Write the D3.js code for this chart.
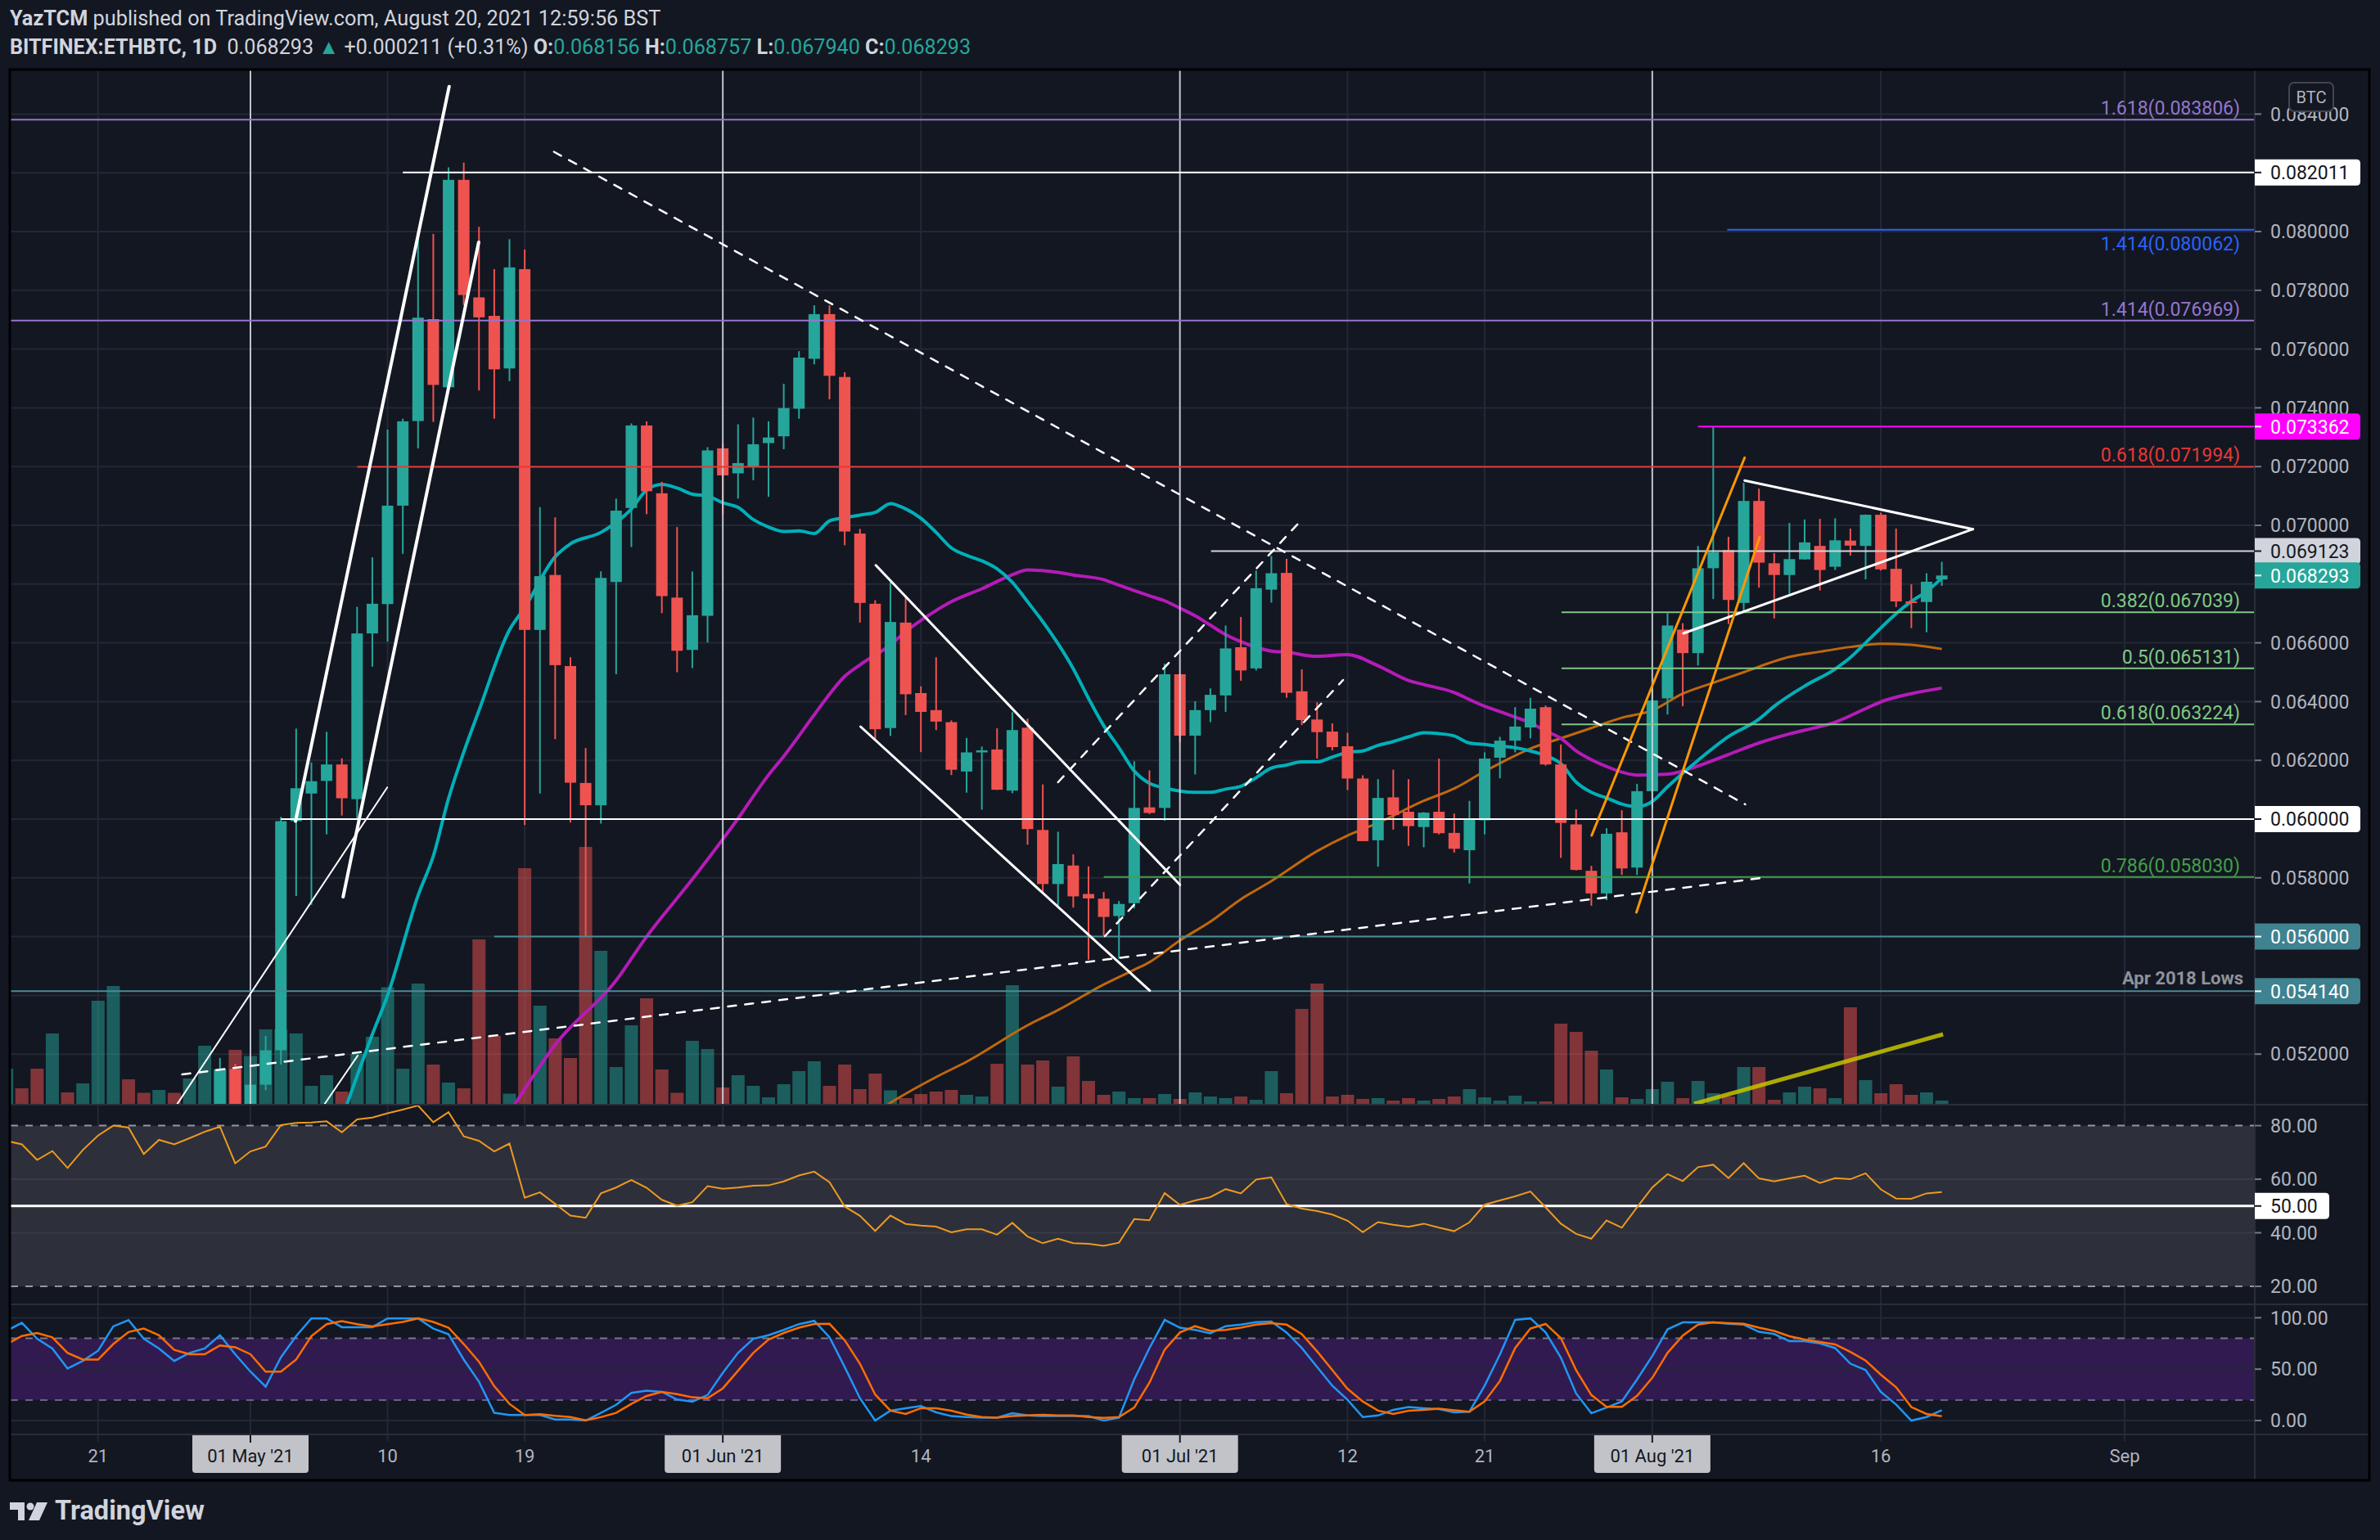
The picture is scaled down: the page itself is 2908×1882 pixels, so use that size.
<!DOCTYPE html>
<html><head><meta charset="utf-8">
<script src="https://cdn.jsdelivr.net/npm/d3@7"></script>
<style>html,body{margin:0;padding:0;background:#131722;}svg{display:block;}</style>
</head><body>
<svg id="chart" width="2908" height="1882"></svg>
<script>
// ---------------- DATA ----------------
const firstDay = "2021-04-15", lastDay = "2021-08-20";
const opens = [0.0382,0.0386,0.0383,0.0380,0.0395,0.0393,0.0410,0.0436,0.0460,0.0456,0.0452,0.0457,0.0452,0.0468,0.0495,0.05149,
0.0502,0.05096,0.05213,0.05993,0.06087,0.06130,0.06186,0.06068,0.06632,0.06732,0.07067,0.07355,0.07702,0.07470,0.08176,0.07776,0.07713,0.07534,0.07872,0.06644,0.06831,0.06521,0.06123,0.06047,0.06807,0.07059,0.07340,0.07109,0.06754,0.06576,0.06692,
0.07262,0.07177,0.07198,0.07280,0.07303,0.07397,0.07567,0.07719,0.07505,0.06972,0.06733,0.06310,0.06669,0.06429,0.06371,0.06330,0.06162,0.06227,0.06237,0.06097,0.06311,0.05963,0.05779,0.05842,0.05745,0.05729,0.05670,0.05714,0.06040,0.06038,
0.06493,0.06284,0.06371,0.06421,0.06585,0.06513,0.06781,0.06838,0.06435,0.06339,0.06298,0.06248,0.06138,0.05928,0.06074,0.06025,0.05973,0.06025,0.05953,0.05894,0.05996,0.06209,0.06267,0.06312,0.06381,0.06186,0.05982,0.05824,0.05747,0.05955,0.05835,
0.06095,0.06411,0.06645,0.06565,0.06854,0.06916,0.06736,0.07083,0.06871,0.06831,0.06884,0.06930,0.06859,0.06948,0.06930,0.07036,0.06852,0.06741,0.06739,0.068156];
const highs = [0.0389,0.0391,0.0387,0.0398,0.0399,0.0412,0.0440,0.0468,0.0466,0.0461,0.0460,0.0462,0.0470,0.0499,0.05187,0.05167,
0.05116,0.05262,0.06008,0.06308,0.06193,0.06297,0.06207,0.06723,0.06891,0.07326,0.07363,0.07987,0.07992,0.08219,0.08235,0.08016,0.07872,0.07974,0.07939,0.07062,0.07027,0.06551,0.06242,0.06843,0.07091,0.07347,0.07354,0.07148,0.06994,0.06843,0.07266,
0.07278,0.07344,0.07367,0.07354,0.07482,0.07593,0.07749,0.07749,0.07521,0.06988,0.06745,0.06807,0.06754,0.06452,0.06551,0.06336,0.06276,0.06247,0.06309,0.06364,0.06342,0.06118,0.05957,0.05880,0.05839,0.05752,0.05721,0.06197,0.06166,0.06529,
0.06495,0.06401,0.06445,0.06659,0.06688,0.06846,0.06896,0.06886,0.06510,0.06398,0.06326,0.06294,0.06149,0.06136,0.06168,0.06136,0.06024,0.06206,0.06019,0.06062,0.06227,0.06280,0.06381,0.06413,0.06387,0.06254,0.06033,0.05841,0.05969,0.06030,0.06120,
0.06450,0.06701,0.06667,0.06930,0.07336,0.06961,0.07145,0.07125,0.06905,0.07008,0.07020,0.07022,0.07024,0.06989,0.07037,0.07043,0.06989,0.06799,0.06837,0.068757];
const lows = [0.0379,0.0380,0.0376,0.0375,0.0388,0.0390,0.0405,0.0430,0.0445,0.0448,0.0447,0.0449,0.0450,0.0465,0.0490,0.0495,
0.0499,0.05077,0.05164,0.05738,0.05708,0.05948,0.06012,0.06003,0.06519,0.06604,0.06903,0.07262,0.07352,0.07470,0.07750,0.07459,0.07363,0.07491,0.05980,0.06087,0.06272,0.05988,0.05602,0.05985,0.06493,0.06926,0.07038,0.06701,0.06500,0.06514,0.06601,
0.07035,0.07091,0.07154,0.07097,0.07259,0.07363,0.07548,0.07429,0.06932,0.06669,0.06271,0.06283,0.06354,0.06228,0.06303,0.06150,0.06090,0.06032,0.06099,0.06088,0.05913,0.05748,0.05705,0.05699,0.05521,0.05602,0.05525,0.05696,0.06017,0.05994,
0.06262,0.06152,0.06330,0.06365,0.06471,0.06506,0.06737,0.06413,0.06320,0.06206,0.06234,0.06099,0.05925,0.05838,0.05964,0.05909,0.05904,0.05948,0.05886,0.05781,0.05948,0.06139,0.06227,0.06275,0.06182,0.05868,0.05825,0.05705,0.05724,0.05810,0.05810,
0.06040,0.06356,0.06384,0.06523,0.06749,0.06664,0.06704,0.06788,0.06683,0.06767,0.06883,0.06778,0.06848,0.06897,0.06816,0.06846,0.06722,0.06650,0.06636,0.067940];
const closes = [0.0386,0.0383,0.0380,0.0395,0.0393,0.0410,0.0436,0.0460,0.0456,0.0452,0.0457,0.0452,0.0468,0.0495,0.05149,0.0502,
0.05096,0.05213,0.05993,0.06105,0.06129,0.06186,0.06071,0.06632,0.06733,0.07067,0.07354,0.07707,0.07478,0.08176,0.07784,0.07708,0.07531,0.07878,0.06644,0.06827,0.06524,0.06124,0.06047,0.06821,0.07050,0.07340,0.07116,0.06759,0.06573,0.06694,0.07255,
0.07170,0.07212,0.07276,0.07299,0.07399,0.07571,0.07719,0.07509,0.06979,0.06736,0.06306,0.06671,0.06425,0.06365,0.06332,0.06168,0.06227,0.06234,0.06100,0.06303,0.05966,0.05779,0.05847,0.05737,0.05730,0.05667,0.05711,0.06038,0.06021,0.06493,
0.06284,0.06371,0.06423,0.06581,0.06506,0.06786,0.06837,0.06430,0.06337,0.06296,0.06245,0.06138,0.05925,0.06072,0.06014,0.05976,0.06022,0.05952,0.05899,0.05998,0.06206,0.06267,0.06315,0.06376,0.06186,0.05987,0.05827,0.05747,0.05950,0.05832,0.06095,
0.06404,0.06659,0.06565,0.06854,0.06908,0.06746,0.07083,0.06873,0.06831,0.06885,0.06942,0.06848,0.06949,0.06931,0.07036,0.06850,0.06741,0.06736,0.06808,0.068293];
const volumes = [43,19,43,86,14,25,126,144,30,13.5,17,13.5,31,71,42,66,
58.5,91,91,86,22,35,15,61,82,142.5,43,147,48,26,19,201,83,12.5,288,120,80,56,314,187,45,96,129,42,13.5,77,67,
20,35,22,8,24,40,52,22,48,18,37,16.5,7,12,15,17,11,9,49,145,48,53,21,58,28,11,15,7,7,12,
6,14,9,7,9,5,40,13,116,147,9,11,6,7,4,7,4,6,9,18,8,4,10,3,3,98,88,65,42,8,6,
18,27,7,28,13,9,45,45,5,14,21,19,7,118,29,13,24,11,14,4];
const rsi = [74.3,73.0,67.2,70.5,64.2,70.9,76.3,80.0,79.3,69.4,74.7,73.0,75.3,77.7,79.6,65.9,
70.4,72.2,80.2,81.0,81.2,81.6,77.5,82.3,83.0,84.6,86.0,87.5,81.3,85.0,76.0,74.3,70.4,73.3,53.1,55.1,50.8,46.4,45.6,54.7,56.9,59.7,56.8,52.3,50.1,51.4,57.4,
56.4,56.9,57.6,57.7,59.2,61.4,62.8,58.9,49.8,46.3,40.7,46.4,43.3,42.7,42.3,40.2,41.3,41.3,39.3,43.7,38.6,36.1,37.8,36.1,35.9,35.1,36.3,45.1,44.7,54.8,
50.4,52.1,53.3,56.3,54.7,59.9,60.7,50.7,49.0,48.1,46.8,44.5,40.2,44.0,43.0,42.2,43.4,41.9,40.6,43.9,50.5,52.1,53.6,55.4,49.5,43.4,39.6,37.8,44.6,41.9,49.5,
56.9,61.9,59.3,64.5,65.4,60.4,66.0,60.3,59.2,60.3,61.3,58.6,60.4,60.0,62.2,56.2,52.8,52.7,54.7,55.2];
const stochK = [87.3,95.1,79.6,70.1,50.6,58.0,67.9,91.6,97.7,79.6,70.1,58.0,65.8,70.1,83.0,64.5,
47.6,33.0,61.5,82.2,99.4,99.4,90.8,90.8,90.8,99.4,99.4,99.4,89.5,83.9,59.3,37.7,7.5,5.3,5.3,5.3,1.0,1.0,0,7.5,15.3,26.9,29.1,27.9,20.5,18.3,24.8,
46.3,65.8,79.6,83.0,88.2,93.8,97.0,81.1,52.1,21.7,0,9.6,12.0,14.1,8.0,4.3,3.4,2.8,2.8,7.1,4.9,4.3,4.3,4.3,4.3,0,2.8,40.0,70.5,97.9,
90.3,88.1,84.8,91.8,93.3,95.8,96.3,85.7,70.5,52.1,33.9,20.2,3.4,4.9,10.4,13.1,12.0,11.1,8.0,8.6,33.9,64.3,97.9,99.4,85.7,61.3,26.3,7.1,12.6,18.6,40.0,
62.8,88.7,95.5,95.5,95.5,94.2,93.3,86.3,84.2,77.2,77.2,75.0,70.5,55.3,49.1,27.8,15.6,0,3.4,10.1];
const stochD = [74.4,82.2,85.2,80.9,65.8,59.3,59.3,74.4,86.1,89.5,83.0,68.8,64.5,64.5,73.1,71.3,
64.5,47.6,47.6,59.3,82.2,93.8,96.8,93.8,91.6,93.8,95.9,99.4,95.9,90.4,74.4,57.2,33.4,16.2,5.3,6.2,4.5,3.3,0.2,3.3,7.5,16.2,23.9,27.9,25.6,22.6,21.7,
31.3,48.5,65.8,78.7,85.2,90.4,94.0,94.2,78.1,55.3,25.3,9.6,6.4,12.0,12.0,9.6,5.8,3.4,2.8,4.3,4.9,5.6,4.9,4.9,3.4,2.5,3.4,12.6,36.9,69.0,
85.7,91.8,87.2,88.1,90.3,93.3,94.8,93.3,84.1,67.4,49.1,30.8,18.6,9.6,6.4,9.6,10.4,11.6,10.0,8.6,18.6,38.5,70.5,89.6,94.0,80.2,49.1,24.8,13.3,13.3,24.0,
41.5,65.8,82.6,93.3,95.5,94.8,94.2,90.3,87.2,82.0,78.9,76.5,74.1,66.8,58.3,44.6,32.4,13.1,6.4,4.1];

const maTeal = [["2021-05-07",0.0498],["2021-05-09",0.05267],["2021-05-10",0.0540],["2021-05-12",0.0574],["2021-05-13",0.05874],["2021-05-14",0.06070],["2021-05-15",0.06228],["2021-05-16",0.06370],["2021-05-18",0.06644],["2021-05-19",0.06720],["2021-05-21",0.06893],["2021-05-22",0.06937],["2021-05-24",0.06976],["2021-05-26",0.07056],["2021-05-27",0.07120],["2021-05-28",0.07139],["2021-05-29",0.07127],["2021-05-30",0.07106],["2021-05-31",0.07100],["2021-06-01",0.07077],["2021-06-02",0.07061],["2021-06-03",0.07020],["2021-06-04",0.06994],["2021-06-05",0.06979],["2021-06-06",0.06981],["2021-06-07",0.06972],["2021-06-08",0.07015],["2021-06-09",0.07026],["2021-06-10",0.07035],["2021-06-11",0.07044],["2021-06-12",0.07074],["2021-06-13",0.07056],["2021-06-14",0.07024],["2021-06-15",0.06976],["2021-06-16",0.06923],["2021-06-17",0.06898],["2021-06-18",0.06879],["2021-06-19",0.06852],["2021-06-20",0.06806],["2021-06-21",0.06740],["2021-06-22",0.06672],["2021-06-23",0.06597],["2021-06-24",0.06512],["2021-06-25",0.06411],["2021-06-26",0.06318],["2021-06-27",0.06243],["2021-06-28",0.06164],["2021-06-29",0.06122],["2021-06-30",0.06106],["2021-07-02",0.06091],["2021-07-03",0.06091],["2021-07-04",0.06102],["2021-07-05",0.06112],["2021-07-06",0.06141],["2021-07-07",0.06174],["2021-07-08",0.06184],["2021-07-09",0.06195],["2021-07-10",0.06195],["2021-07-11",0.06211],["2021-07-12",0.06227],["2021-07-13",0.06232],["2021-07-14",0.06251],["2021-07-15",0.06264],["2021-07-16",0.06280],["2021-07-17",0.06294],["2021-07-18",0.06291],["2021-07-19",0.06283],["2021-07-20",0.06259],["2021-07-21",0.06254],["2021-07-22",0.06248],["2021-07-23",0.06243],["2021-07-24",0.06232],["2021-07-25",0.06216],["2021-07-26",0.06189],["2021-07-27",0.06126],["2021-07-28",0.06091],["2021-07-29",0.06072],["2021-07-30",0.06051],["2021-07-31",0.06042],["2021-08-01",0.06060],["2021-08-02",0.06110],["2021-08-04",0.06200],["2021-08-06",0.06281],["2021-08-08",0.06340],["2021-08-09",0.06384],["2021-08-11",0.06453],["2021-08-13",0.06511],["2021-08-14",0.06550],["2021-08-15",0.06600],["2021-08-17",0.06699],["2021-08-18",0.06741],["2021-08-19",0.06775],["2021-08-20",0.06820]];
const maMagenta = [["2021-05-18",0.0500],["2021-05-21",0.05232],["2021-05-25",0.05451],["2021-05-27",0.05600],["2021-05-30",0.05795],["2021-06-02",0.06002],["2021-06-04",0.06150],["2021-06-05",0.06214],["2021-06-07",0.06355],["2021-06-08",0.06425],["2021-06-09",0.06486],["2021-06-10",0.06525],["2021-06-12",0.06593],["2021-06-13",0.06638],["2021-06-15",0.06710],["2021-06-16",0.06740],["2021-06-18",0.06784],["2021-06-20",0.06832],["2021-06-21",0.06848],["2021-06-23",0.06840],["2021-06-24",0.06831],["2021-06-26",0.06815],["2021-06-27",0.06796],["2021-06-29",0.06760],["2021-06-30",0.06743],["2021-07-01",0.06718],["2021-07-02",0.06692],["2021-07-03",0.06660],["2021-07-04",0.06628],["2021-07-05",0.06604],["2021-07-07",0.06572],["2021-07-08",0.06568],["2021-07-10",0.06554],["2021-07-12",0.06560],["2021-07-14",0.06522],["2021-07-16",0.06472],["2021-07-17",0.06458],["2021-07-19",0.06431],["2021-07-20",0.06407],["2021-07-21",0.06384],["2021-07-22",0.06366],["2021-07-23",0.06347],["2021-07-24",0.06328],["2021-07-25",0.06300],["2021-07-26",0.06275],["2021-07-27",0.06232],["2021-07-28",0.06202],["2021-07-29",0.06179],["2021-07-30",0.06160],["2021-07-31",0.06150],["2021-08-02",0.06153],["2021-08-04",0.06181],["2021-08-06",0.06220],["2021-08-08",0.06259],["2021-08-10",0.06290],["2021-08-12",0.06315],["2021-08-13",0.06330],["2021-08-15",0.06376],["2021-08-16",0.06399],["2021-08-18",0.06427],["2021-08-20",0.06446]];
const maOrange = [["2021-06-11",0.0500],["2021-06-12",0.05034],["2021-06-15",0.05122],["2021-06-17",0.05174],["2021-06-21",0.05298],["2021-06-23",0.05350],["2021-06-26",0.05437],["2021-06-28",0.05487],["2021-06-29",0.05513],["2021-07-01",0.05587],["2021-07-03",0.05651],["2021-07-05",0.05727],["2021-07-07",0.05789],["2021-07-10",0.05891],["2021-07-12",0.05944],["2021-07-14",0.05987],["2021-07-17",0.06062],["2021-07-19",0.06104],["2021-07-21",0.06163],["2021-07-22",0.06190],["2021-07-24",0.06240],["2021-07-26",0.06275],["2021-07-28",0.06310],["2021-07-30",0.06345],["2021-08-01",0.06370],["2021-08-03",0.06427],["2021-08-05",0.06464],["2021-08-07",0.06500],["2021-08-10",0.06552],["2021-08-12",0.06570],["2021-08-14",0.06586],["2021-08-16",0.06597],["2021-08-18",0.06593],["2021-08-20",0.06579]];

// horizontal levels: [price, startDate, colour, fibRatio or null, label position]
const levels = [
  [0.083806,"2021-04-01","#9575cd","1.618","above"],
  [0.082011,"2021-05-11","#ffffff",null,null],
  [0.080062,"2021-08-05T22:00","#2962ff","1.414","below"],
  [0.076969,"2021-04-01","#9575cd","1.414","above"],
  [0.073362,"2021-08-04","#ff00ff",null,null],
  [0.071994,"2021-05-08","#e53935","0.618","above"],
  [0.069123,"2021-07-03T01:00","#d1d4dc",null,null],
  [0.067039,"2021-07-26T01:00","#81c784","0.382","above"],
  [0.065131,"2021-07-26T01:00","#81c784","0.5","above"],
  [0.063224,"2021-07-26T01:00","#81c784","0.618","above"],
  [0.060000,"2021-05-03","#ffffff",null,null],
  [0.058030,"2021-06-26","#43a047","0.786","above"],
  [0.056000,"2021-05-17","#4b8b97",null,null],
  [0.054140,"2021-04-01","#4b8b97",null,null]
];
// trend lines: [startDate, startPrice, endDate, endPrice, colour, width, dashed]
const trendLines = [
  ["2021-05-03T23:00",0.059928,"2021-05-14T01:00",0.084939,"#ffffff",4,false],
  ["2021-05-07T02:00",0.057354,"2021-05-15T23:30",0.079638,"#ffffff",4,false],
  ["2021-04-26T05:00",0.050312,"2021-05-09T23:30",0.061078,"#ffffff",2,false],
  ["2021-05-05T21:00",0.050306,"2021-05-08T01:00",0.051950,"#ffffff",2,false],
  ["2021-05-20T22:00",0.082716,"2021-08-07T02:30",0.060501,"#ffffff",2.5,true],
  ["2021-04-26T12:30",0.051309,"2021-08-08T14:30",0.058022,"#ffffff",2.5,true],
  ["2021-06-23T00:00",0.061253,"2021-07-08T18:00",0.070056,"#ffffff",2.5,true],
  ["2021-06-26T02:00",0.056017,"2021-07-11T17:00",0.064735,"#ffffff",2.5,true],
  ["2021-06-11T01:00",0.068641,"2021-07-01T00:00",0.057763,"#ffffff",3,false],
  ["2021-06-10T01:00",0.063148,"2021-06-29T00:30",0.054159,"#ffffff",3,false],
  ["2021-08-07T01:30",0.071524,"2021-08-22T01:00",0.069869,"#ffffff",3,false],
  ["2021-08-03T01:00",0.066323,"2021-08-22T01:00",0.069869,"#ffffff",3,false],
  ["2021-07-28T00:30",0.059443,"2021-08-07T01:30",0.072304,"#ff9800",3,false],
  ["2021-07-30T23:00",0.056825,"2021-08-08T01:00",0.069591,"#ff9800",3,false]
];
const volumeTrend = [["2021-08-03T18:00",0],["2021-08-20T02:00",85]];
const monthLines = ["2021-05-01","2021-06-01","2021-07-01","2021-08-01"];
const priceTicks = [0.052,0.054,0.056,0.058,0.060,0.062,0.064,0.066,0.068,0.070,0.072,0.074,0.076,0.078,0.080,0.082,0.084];
const rsiTicks = [20,40,60,80];
const stochTicks = [0,50,100];
const timeTicks = [["2021-04-21","21",false],["2021-05-01","01 May '21",true],["2021-05-10","10",false],["2021-05-19","19",false],["2021-06-01","01 Jun '21",true],["2021-06-14","14",false],["2021-07-01","01 Jul '21",true],["2021-07-12","12",false],["2021-07-21","21",false],["2021-08-01","01 Aug '21",true],["2021-08-16","16",false],["2021-09-01","Sep",false]];
const priceBoxes = [[0.082011,"#ffffff","#131722"],[0.073362,"#ff00ff","#ffffff"],[0.069123,"#d1d4dc","#131722"],[0.068293,"#26a69a","#ffffff"],[0.060000,"#ffffff","#131722"],[0.056000,"#3f8290","#ffffff"],[0.054140,"#3f8290","#ffffff"]];
const headerLine1 = ["YazTCM"," published on TradingView.com, August 20, 2021 12:59:56 BST"];
const symbolInfo = {symbol:"BITFINEX:ETHBTC, 1D", last:0.068293, change:0.000211, changePct:0.31};

// ---------------- LAYOUT ----------------
const W = 2908, H = 1882, L = 13, R = 2755, FR = 2894;
const mainTop = 86, mainBot = 1349, rsiTop = 1351, rsiBot = 1593, stTop = 1595, stBot = 1753, axBot = 1808;
const FONT = "Roboto, 'Liberation Sans', Arial, sans-serif";
const UP = "#26a69a", DOWN = "#ef5350", GRID = "#242835", TXT = "#b2b5be";
const pt = s => new Date(s.length === 10 ? s + "T00:00:00Z" : s + ":00Z");

const dates = d3.utcDay.range(pt(firstDay), d3.utcDay.offset(pt(lastDay), 1));
const x = d3.scaleUtc().domain([pt("2021-05-01"), pt("2021-09-01")]).range([306, 2596]);
const y = d3.scaleLinear().domain([0.060, 0.070]).range([1001, 642]);
const yVol = d3.scaleLinear().domain([0, 100]).range([mainBot, mainBot - 100]);
const yRsi = d3.scaleLinear().domain([20, 80]).range([1572, 1375.6]);
const ySt = d3.scaleLinear().domain([0, 100]).range([1736, 1610.4]);

const svg = d3.select("#chart");
svg.append("rect").attr("width", W).attr("height", H).attr("fill", "#131722");
const defs = svg.append("defs");
function clip(id, y0, y1) { defs.append("clipPath").attr("id", id).append("rect").attr("x", L).attr("y", y0).attr("width", R - L).attr("height", y1 - y0); }
clip("cMain", mainTop, mainBot); clip("cRsi", rsiTop, rsiBot); clip("cSt", stTop, stBot);

// ---------- grids ----------
const grid = svg.append("g");
grid.selectAll(".hg").data(priceTicks).join("line").attr("x1", L).attr("x2", R).attr("y1", d => y(d)).attr("y2", d => y(d)).attr("stroke", GRID).attr("stroke-width", 2);
grid.selectAll(".vg").data(timeTicks).join("line").attr("x1", d => x(pt(d[0]))).attr("x2", d => x(pt(d[0]))).attr("y1", mainTop).attr("y2", stBot + 9).attr("stroke", GRID).attr("stroke-width", 2);

// RSI band
svg.append("rect").attr("x", L).attr("width", R - L).attr("y", yRsi(80)).attr("height", yRsi(20) - yRsi(80)).attr("fill", "#2d2f3b");
svg.selectAll(".rg").data([40, 60]).join("line").attr("x1", L).attr("x2", R).attr("y1", d => yRsi(d)).attr("y2", d => yRsi(d)).attr("stroke", "#383b48").attr("stroke-width", 2);
// Stoch band
svg.append("rect").attr("x", L).attr("width", R - L).attr("y", ySt(80)).attr("height", ySt(20) - ySt(80)).attr("fill", "#311a50");
svg.selectAll(".sg").data(stochTicks).join("line").attr("x1", L).attr("x2", R).attr("y1", d => ySt(d)).attr("y2", d => ySt(d)).attr("stroke", GRID).attr("stroke-width", 2);

// ---------- main pane ----------
const gm = svg.append("g").attr("clip-path", "url(#cMain)");
const rows = dates.map((d, i) => ({d, o: opens[i], h: highs[i], l: lows[i], c: closes[i], v: volumes[i]}));
gm.selectAll(".vol").data(rows).join("rect")
  .attr("x", r => x(r.d) - 8).attr("width", 16)
  .attr("y", r => yVol(r.v)).attr("height", r => mainBot - yVol(r.v))
  .attr("fill", r => r.c >= r.o ? UP : DOWN).attr("opacity", 0.5);
gm.append("path").datum(volumeTrend).attr("fill", "none").attr("stroke", "#c8c400").attr("stroke-width", 5).attr("opacity", 0.85)
  .attr("d", d3.line().x(p => x(pt(p[0]))).y(p => yVol(p[1])));

const maLine = d3.line().x(p => x(pt(p[0]))).y(p => y(p[1])).curve(d3.curveMonotoneX);
gm.append("path").datum(maOrange).attr("fill", "none").attr("stroke", "#c0680c").attr("stroke-width", 3).attr("d", maLine);
gm.append("path").datum(maMagenta).attr("fill", "none").attr("stroke", "#b51bb8").attr("stroke-width", 4).attr("d", maLine);
gm.append("path").datum(maTeal).attr("fill", "none").attr("stroke", "#00b0b9").attr("stroke-width", 4).attr("d", maLine);

const cg = gm.append("g");
cg.selectAll(".wick").data(rows).join("line")
  .attr("x1", r => x(r.d)).attr("x2", r => x(r.d)).attr("y1", r => y(r.h)).attr("y2", r => y(r.l))
  .attr("stroke", r => r.c >= r.o ? UP : DOWN).attr("stroke-width", 2);
cg.selectAll(".body").data(rows).join("rect")
  .attr("x", r => x(r.d) - 7).attr("width", 14)
  .attr("y", r => y(Math.max(r.o, r.c))).attr("height", r => Math.max(2, Math.abs(y(r.o) - y(r.c))))
  .attr("fill", r => r.c >= r.o ? UP : DOWN);

// month lines
gm.selectAll(".ml").data(monthLines).join("line").attr("x1", d => x(pt(d))).attr("x2", d => x(pt(d))).attr("y1", mainTop).attr("y2", mainBot).attr("stroke", "#d1d4dc").attr("stroke-width", 2).attr("opacity", 0.9);

// horizontal levels
const fmt6 = d3.format(".6f"), fmt2 = d3.format(".2f");
gm.selectAll(".lv").data(levels).join("line")
  .attr("x1", d => Math.max(L, x(pt(d[1])))).attr("x2", R).attr("y1", d => y(d[0])).attr("y2", d => y(d[0]))
  .attr("stroke", d => d[2]).attr("stroke-width", 2);
svg.selectAll(".lvt").data(levels.filter(d => d[3])).join("text")
  .attr("x", 2737).attr("y", d => d[4] === "above" ? y(d[0]) - 6 : y(d[0]) + 25)
  .attr("text-anchor", "end").attr("font-family", FONT).attr("font-size", 23).attr("fill", d => d[2])
  .text(d => `${d[3]}(${fmt6(d[0])})`);
svg.append("text").attr("x", 2741).attr("y", y(0.054140) - 8).attr("text-anchor", "end").attr("font-family", FONT)
  .attr("font-size", 22).attr("font-weight", "bold").attr("fill", "#8f929b").text("Apr 2018 Lows");

// trend lines
gm.selectAll(".tl").data(trendLines).join("line")
  .attr("x1", d => x(pt(d[0]))).attr("y1", d => y(d[1])).attr("x2", d => x(pt(d[2]))).attr("y2", d => y(d[3]))
  .attr("stroke", d => d[4]).attr("stroke-width", d => d[5]).attr("stroke-dasharray", d => d[6] ? "10,11" : null)
  .attr("stroke-linecap", "round");

// ---------- RSI pane ----------
const gr = svg.append("g").attr("clip-path", "url(#cRsi)");
gr.selectAll(".rd").data([80, 20]).join("line").attr("x1", L).attr("x2", R).attr("y1", d => yRsi(d)).attr("y2", d => yRsi(d))
  .attr("stroke", "#b2b5be").attr("stroke-width", 2).attr("stroke-dasharray", "9,9").attr("opacity", 0.8);
gr.append("line").attr("x1", L).attr("x2", R).attr("y1", yRsi(50)).attr("y2", yRsi(50)).attr("stroke", "#ffffff").attr("stroke-width", 3);
gr.append("path").datum(rsi).attr("fill", "none").attr("stroke", "#ee9a1e").attr("stroke-width", 2)
  .attr("d", d3.line().x((v, i) => x(dates[i])).y(v => yRsi(v)));

// ---------- Stoch pane ----------
const gs = svg.append("g").attr("clip-path", "url(#cSt)");
gs.append("line").attr("x1", L).attr("x2", R).attr("y1", ySt(80)).attr("y2", ySt(80)).attr("stroke", "#787b86").attr("stroke-width", 2).attr("stroke-dasharray", "9,9");
gs.append("line").attr("x1", L).attr("x2", R).attr("y1", ySt(20)).attr("y2", ySt(20)).attr("stroke", "#6e5e8c").attr("stroke-width", 2).attr("stroke-dasharray", "9,9");
const stLine = d3.line().x((v, i) => x(dates[i])).y(v => ySt(v));
gs.append("path").datum(stochK).attr("fill", "none").attr("stroke", "#2196f3").attr("stroke-width", 2.5).attr("d", stLine);
gs.append("path").datum(stochD).attr("fill", "none").attr("stroke", "#ff6d00").attr("stroke-width", 2.5).attr("d", stLine);

// ---------- separators & frame ----------
svg.selectAll(".sep").data([1350, 1594, stBot]).join("line").attr("x1", L).attr("x2", FR).attr("y1", d => d).attr("y2", d => d).attr("stroke", "#2a2e39").attr("stroke-width", 2);
svg.append("line").attr("x1", R).attr("x2", R).attr("y1", mainTop).attr("y2", axBot).attr("stroke", "#2a2e39").attr("stroke-width", 2);
svg.append("rect").attr("x", L - 1).attr("y", mainTop - 1).attr("width", FR - L + 2).attr("height", axBot - mainTop + 2).attr("fill", "none").attr("stroke", "#000000").attr("stroke-width", 3);

// ---------- axes ----------
const ax = svg.append("g").attr("font-family", FONT).attr("font-size", 23);
function tickLabels(vals, sc, fmt, boxes) {
  ax.selectAll(null).data(vals).join("line").attr("x1", R).attr("x2", R + 8).attr("y1", d => sc(d)).attr("y2", d => sc(d)).attr("stroke", "#787b86").attr("stroke-width", 2);
  // a tick label hidden under a value box is not drawn (as on the platform)
  const visible = vals.filter(v => !boxes.some(b => Math.abs(sc(b) - sc(v)) < 20));
  ax.selectAll(null).data(visible).join("text").attr("x", 2774).attr("y", d => sc(d)).attr("dy", "0.36em").attr("fill", TXT).text(fmt);
}
tickLabels(priceTicks, y, fmt6, priceBoxes.map(b => b[0]));
tickLabels(rsiTicks, yRsi, fmt2, [50]);
tickLabels(stochTicks, ySt, fmt2, []);

function valueBox(val, sc, bg, fg, w, fmt) {
  const yy = sc(val);
  ax.append("path").attr("d", `M${R},${yy - 16}H${R + w - 5}Q${R + w},${yy - 16} ${R + w},${yy - 11}V${yy + 11}Q${R + w},${yy + 16} ${R + w - 5},${yy + 16}H${R}Z`).attr("fill", bg);
  ax.append("line").attr("x1", R).attr("x2", R + 8).attr("y1", yy).attr("y2", yy).attr("stroke", fg).attr("stroke-width", 2);
  ax.append("text").attr("x", 2774).attr("y", yy).attr("dy", "0.36em").attr("fill", fg).text(fmt(val));
}
priceBoxes.forEach(b => valueBox(b[0], y, b[1], b[2], 129, fmt6));
valueBox(50, yRsi, "#ffffff", "#131722", 91, fmt2);

// BTC badge
ax.append("rect").attr("x", 2797).attr("y", 101).attr("width", 54).attr("height", 35).attr("rx", 6).attr("fill", "#131722").attr("stroke", "#434651").attr("stroke-width", 2);
ax.append("text").attr("x", 2824).attr("y", 119).attr("dy", "0.36em").attr("text-anchor", "middle").attr("font-size", 20).attr("fill", TXT).text("BTC");

// time axis
const tg = svg.append("g").attr("font-family", FONT).attr("font-size", 22);
timeTicks.forEach(t => {
  const xx = x(pt(t[0]));
  if (t[2]) {
    const w = 142;
    tg.append("path").attr("d", `M${xx - w / 2},${stBot + 1}H${xx + w / 2}V${1796}Q${xx + w / 2},${1800} ${xx + w / 2 - 4},${1800}H${xx - w / 2 + 4}Q${xx - w / 2},${1800} ${xx - w / 2},${1796}Z`).attr("fill", "#c2c3c8");
    tg.append("line").attr("x1", xx).attr("x2", xx).attr("y1", stBot + 1).attr("y2", stBot + 10).attr("stroke", "#131722").attr("stroke-width", 2);
    tg.append("text").attr("x", xx).attr("y", 1779).attr("dy", "0.36em").attr("text-anchor", "middle").attr("fill", "#131722").text(t[1]);
  } else {
    tg.append("text").attr("x", xx).attr("y", 1779).attr("dy", "0.36em").attr("text-anchor", "middle").attr("fill", TXT).text(t[1]);
  }
});

// ---------- header ----------
function fit(sel, target) {
  const n = sel.node(); const w = n.getComputedTextLength(); const fs = +sel.attr("font-size");
  sel.attr("font-size", fs * target / w);
}
const h1 = svg.append("text").attr("x", 12).attr("y", 31).attr("font-family", FONT).attr("font-size", 22).attr("fill", "#d1d4dc");
h1.append("tspan").attr("font-weight", "bold").text(headerLine1[0]);
h1.append("tspan").text(headerLine1[1]);
fit(h1, 796);
const h2 = svg.append("text").attr("x", 12).attr("y", 66).attr("font-family", FONT).attr("font-size", 22).attr("fill", "#d1d4dc").attr("xml:space", "preserve");
h2.append("tspan").attr("font-weight", "bold").text(symbolInfo.symbol);
h2.append("tspan").text("  " + fmt6(symbolInfo.last) + " ");
h2.append("tspan").attr("fill", UP).text("▲");
h2.append("tspan").text(" +" + fmt6(symbolInfo.change) + " (+" + fmt2(symbolInfo.changePct) + "%) ");
[["O:", opens[opens.length - 1]], ["H:", highs[highs.length - 1]], ["L:", lows[lows.length - 1]], ["C:", closes[closes.length - 1]]].forEach((p, i) => {
  h2.append("tspan").attr("font-weight", "bold").text((i ? " " : "") + p[0]);
  h2.append("tspan").attr("fill", UP).text(fmt6(p[1]));
});
fit(h2, 1175);

// ---------- TradingView logo ----------
const lg = svg.append("g").attr("fill", "#d1d4dc");
lg.append("path").attr("d", "M12,1836H30V1858H22V1845H12Z");
lg.append("circle").attr("cx", 37).attr("cy", 1841).attr("r", 4.5);
lg.append("path").attr("d", "M45,1836H58L48,1858H35Z");
const lt = svg.append("text").attr("x", 67).attr("y", 1857).attr("font-family", FONT).attr("font-weight", "bold").attr("font-size", 30).attr("fill", "#d1d4dc").text("TradingView");
fit(lt, 183);
</script>
</body></html>
